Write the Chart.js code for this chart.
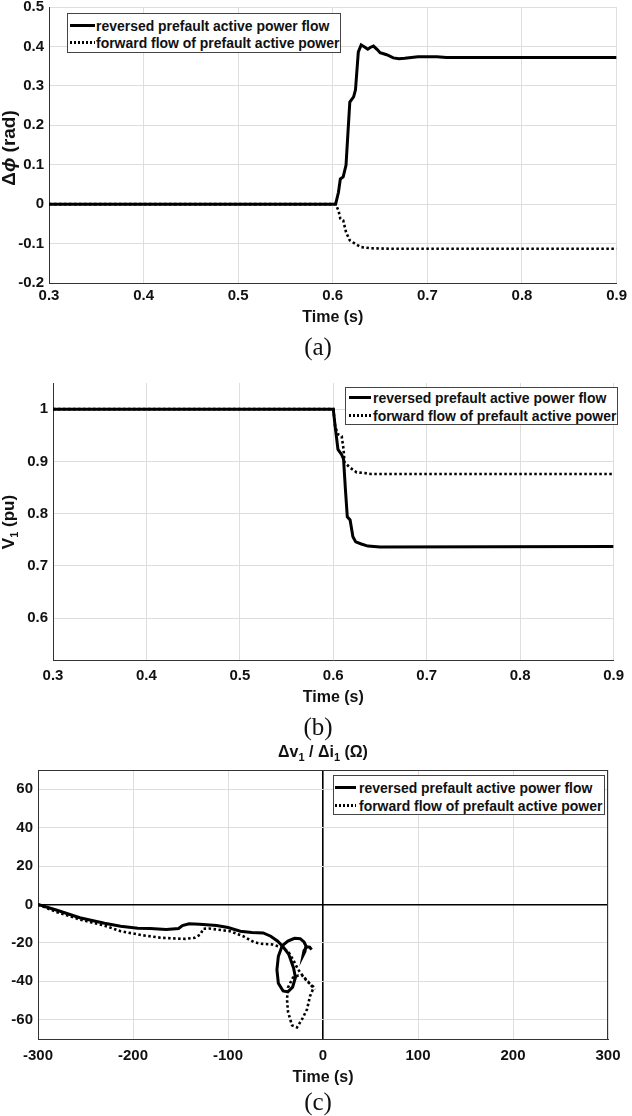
<!DOCTYPE html>
<html lang="en">
<head>
<meta charset="UTF-8">
<script src="https://cdn.jsdelivr.net/npm/chart.js"></script>
<title>Phase jump, V1 and impedance trajectory</title>
<style>
  body { margin: 0; background: #fff; }
  #page { position: relative; width: 632px; height: 1116px; font-family: 'Liberation Sans', Arial, sans-serif; color: #111; }
  canvas { position: absolute; left: 0; }
  .lbl { position: absolute; transform: translate(-50%, -50%); white-space: nowrap; }
  .cap { font-family: 'Liberation Serif', 'Times New Roman', serif; font-size: 25px; }
  .ytitle { position: absolute; transform: translate(-50%, -50%) rotate(-90deg); font-weight: bold; font-size: 17px; white-space: nowrap; }
  .ttl { font-weight: bold; font-size: 16px; }
  sub { font-size: 11px; vertical-align: -4px; line-height: 0; }
  .legend { position: absolute; background: #fff; border: 1px solid #444; font-weight: bold; font-size: 15.5px; }
  .row { position: absolute; left: 0; height: 18px; line-height: 18px; white-space: nowrap; transform: translateY(-50%); }
  .smp { position: absolute; top: 7px; height: 3px; }
  .solid { background: #000; }
  .dots { background: repeating-linear-gradient(90deg, #000 0 2px, transparent 2px 4px); }
  .txt { position: absolute; top: 0; transform: scaleX(0.9); transform-origin: 0 50%; }
</style>
</head>
<body>
<div id="page">
  <canvas id="chartA" width="632" height="330" style="top:0"></canvas>
  <canvas id="chartB" width="632" height="360" style="top:360px"></canvas>
  <canvas id="chartC" width="632" height="376" style="top:740px"></canvas>

  <div class="ytitle" style="left:9px; top:148px; font-size:19px">&Delta;<i>&#981;</i> (rad)</div>
  <div class="ytitle" style="left:9px; top:522px">V<sub>1</sub> (pu)</div>
  <div class="lbl ttl" style="left:323px; top:752px">&Delta;v<sub>1</sub> / &Delta;i<sub>1</sub> (&Omega;)</div>

  <div class="lbl cap" style="left:318px; top:347px">(a)</div>
  <div class="lbl cap" style="left:318px; top:727px">(b)</div>
  <div class="lbl cap" style="left:318px; top:1102px">(c)</div>

  <div class="legend" style="left:67px; top:13px; width:272px; height:38px">
    <div class="row" style="top:12px"><span class="smp solid" style="left:2px; width:25px"></span><span class="txt" style="left:28px">reversed prefault active power flow</span></div>
    <div class="row" style="top:29px"><span class="smp dots" style="left:2px; width:25px"></span><span class="txt" style="left:28px">forward flow of prefault active power</span></div>
  </div>
  <div class="legend" style="left:345px; top:387px; width:271px; height:36px">
    <div class="row" style="top:10px"><span class="smp solid" style="left:3px; width:22px"></span><span class="txt" style="left:27px">reversed prefault active power flow</span></div>
    <div class="row" style="top:28px"><span class="smp dots" style="left:3px; width:22px"></span><span class="txt" style="left:27px">forward flow of prefault active power</span></div>
  </div>
  <div class="legend" style="left:333px; top:775px; width:270px; height:38px">
    <div class="row" style="top:12px"><span class="smp solid" style="left:1px; width:21px"></span><span class="txt" style="left:25px">reversed prefault active power flow</span></div>
    <div class="row" style="top:30px"><span class="smp dots" style="left:1px; width:21px"></span><span class="txt" style="left:25px">forward flow of prefault active power</span></div>
  </div>
</div>

<script>
// (a) phase angle jump
const phiTimeRev = [0.3, 0.603, 0.606, 0.608, 0.611, 0.614, 0.616, 0.618, 0.622, 0.624, 0.627, 0.630, 0.634, 0.637, 0.640, 0.643, 0.647, 0.650, 0.657, 0.664, 0.670, 0.676, 0.690, 0.710, 0.720, 0.9];
const phiRev     = [0, 0, 0.030, 0.064, 0.069, 0.099, 0.180, 0.259, 0.272, 0.290, 0.386, 0.404, 0.398, 0.393, 0.398, 0.401, 0.392, 0.384, 0.379, 0.371, 0.369, 0.370, 0.374, 0.374, 0.372, 0.372];
const phiTimeFwd = [0.3, 0.603, 0.606, 0.608, 0.611, 0.614, 0.618, 0.624, 0.630, 0.640, 0.660, 0.9];
const phiFwd     = [0, 0, -0.016, -0.037, -0.041, -0.071, -0.092, -0.101, -0.109, -0.112, -0.113, -0.113];
const timeTicks  = [0.3, 0.4, 0.5, 0.6, 0.7, 0.8, 0.9];
const phiTicks   = [-0.2, -0.1, 0, 0.1, 0.2, 0.3, 0.4, 0.5];

// (b) positive sequence voltage
const vTimeRev = [0.3, 0.600, 0.602, 0.605, 0.609, 0.611, 0.613, 0.615, 0.618, 0.621, 0.624, 0.630, 0.637, 0.650, 0.9];
const vRev     = [1, 1, 0.967, 0.923, 0.913, 0.904, 0.846, 0.794, 0.788, 0.756, 0.746, 0.742, 0.738, 0.736, 0.737];
const vTimeFwd = [0.3, 0.600, 0.602, 0.605, 0.609, 0.611, 0.612, 0.618, 0.625, 0.632, 0.640, 0.9];
const vFwd     = [1, 1, 0.967, 0.952, 0.948, 0.923, 0.898, 0.888, 0.879, 0.878, 0.876, 0.876];
const vTicks   = [0.6, 0.7, 0.8, 0.9, 1];

// (c) dv1/di1 trajectory
const zReRev = [-300, -280, -256, -230, -213, -195, -182, -165, -152, -148, -141, -130, -112, -100, -87, -75, -63, -55, -48, -42, -36, -31, -29, -32, -37, -42, -47, -48.5, -47, -43, -37, -30, -24, -20, -18, -19, -21, -20, -17, -14, -12];
const zImRev = [0, -3, -6.9, -9.8, -11.3, -12.3, -12.5, -13, -12.5, -11, -10, -10.3, -10.9, -12, -13.9, -14.6, -14.8, -16.5, -19, -22, -26, -33, -38, -43, -45.5, -45, -41, -34, -27, -21.5, -19, -17.6, -17.8, -19.5, -21.5, -24.5, -26.5, -24, -22, -22.2, -23.5];
const zReFwd = [-300, -280, -256, -230, -213, -190, -171, -160, -145, -135, -129, -126, -120, -112, -98, -84, -73, -66, -53, -42, -36, -31.6, -26.3, -21, -15.8, -11.6, -10.5, -13.7, -16.8, -22, -27.4, -32.6, -36.8, -37.9, -36.8, -31.6, -26, -22, -16.8, -10.5, -8.4];
const zImFwd = [0, -4, -7.8, -11, -13.9, -16, -17.3, -17.6, -17.9, -17.3, -15.6, -12.6, -12.5, -13, -13.9, -16.5, -19.5, -20.4, -20.8, -22.5, -25, -28.6, -33.8, -37.4, -40, -42.6, -44, -47.8, -54.5, -59.7, -64, -62.9, -56, -49.4, -43.1, -38, -37, -36.9, -40, -42.6, -44.2];
const reTicks = [-300, -200, -100, 0, 100, 200, 300];
const imTicks = [-60, -40, -20, 0, 20, 40, 60];

const tickFont  = { family: "'Liberation Sans', Arial, sans-serif", size: 15, weight: 'bold', lineHeight: 1 };
const titleFont = { family: "'Liberation Sans', Arial, sans-serif", size: 16, weight: 'bold' };
const gridGrey = '#dedede';

const pts = (xs, ys) => xs.map((x, i) => ({ x: x, y: ys[i] }));
const fmt = v => String(+v.toFixed(2));

function lines(rev, fwd) {
  return [
    { data: rev, borderColor: '#000', borderWidth: 3, pointRadius: 0, showLine: true },
    { data: fwd, borderColor: '#000', borderWidth: 2.6, borderDash: [2.5, 2.5], pointRadius: 0, showLine: true }
  ];
}

function axis(min, max, ticks, pad, extra) {
  return Object.assign({
    type: 'linear', min: min, max: max,
    afterBuildTicks: s => { s.ticks = ticks.map(v => ({ value: v })); },
    grid: { color: gridGrey, drawTicks: false },
    border: { color: '#333' },
    ticks: { font: tickFont, color: '#111', padding: pad, callback: fmt }
  }, extra);
}

function xAxis(min, max, ticks, h, pad) {
  return axis(min, max, ticks, pad, {
    afterFit: s => { s.height = h; },
    title: { display: true, text: 'Time (s)', font: titleFont, color: '#111', padding: 0 }
  });
}
function yAxis(min, max, ticks, w) {
  return axis(min, max, ticks, 5, { afterFit: s => { s.width = w; s.paddingTop = 0; s.paddingBottom = 0; } });
}

const common = {
  responsive: false,
  animation: false,
  plugins: { legend: { display: false }, tooltip: { enabled: false } }
};

new Chart(document.getElementById('chartA'), {
  type: 'scatter',
  data: { datasets: lines(pts(phiTimeRev, phiRev), pts(phiTimeFwd, phiFwd)) },
  options: Object.assign({}, common, {
    layout: { padding: { left: 0, top: 7, right: 13, bottom: 3 } },
    scales: { x: xAxis(0.3, 0.9, timeTicks, 44, 5), y: yAxis(-0.2, 0.5, phiTicks, 49) }
  })
});

new Chart(document.getElementById('chartB'), {
  type: 'scatter',
  data: { datasets: lines(pts(vTimeRev, vRev), pts(vTimeFwd, vFwd)) },
  options: Object.assign({}, common, {
    layout: { padding: { left: 0, top: 23, right: 11, bottom: 13 } },
    scales: { x: xAxis(0.3, 0.9, timeTicks, 47, 8), y: yAxis(0.52, 1.05, vTicks, 53) }
  })
});

// box around the impedance plane and black zero axes
const boxPlugin = {
  id: 'box',
  beforeDatasetsDraw(chart) {
    const a = chart.chartArea, ctx = chart.ctx;
    ctx.save();
    ctx.strokeStyle = '#333';
    ctx.lineWidth = 1;
    ctx.strokeRect(Math.round(a.left) + 0.5, Math.round(a.top) + 0.5, Math.round(a.right - a.left) - 1, Math.round(a.bottom - a.top));
    ctx.restore();
  }
};
const zeroGrid = {
  color: c => (c.tick && c.tick.value === 0) ? '#000' : gridGrey,
  lineWidth: c => (c.tick && c.tick.value === 0) ? 1.6 : 1,
  drawTicks: false
};

const xC = xAxis(-300, 300, reTicks, 48, 9);
xC.grid = zeroGrid;
const yC = yAxis(-70, 70, imTicks, 38);
yC.grid = zeroGrid;

new Chart(document.getElementById('chartC'), {
  type: 'scatter',
  data: { datasets: lines(pts(zReRev, zImRev), pts(zReFwd, zImFwd)) },
  options: Object.assign({}, common, {
    layout: { padding: { left: 0, top: 30, right: 24, bottom: 29 } },
    scales: { x: xC, y: yC }
  }),
  plugins: [boxPlugin]
});
</script>
</body>
</html>
